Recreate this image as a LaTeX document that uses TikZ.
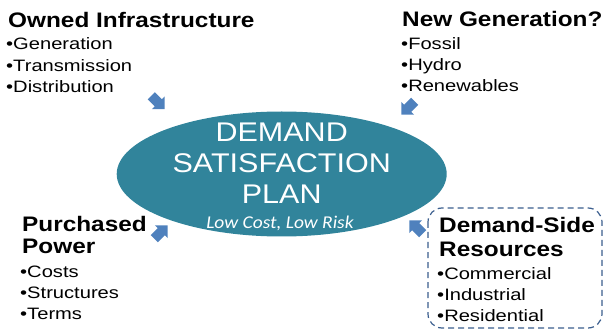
\documentclass[tikz,border=0pt]{standalone}
\usepackage{fontspec}
\setmainfont{Liberation Sans}
\newfontfamily\headfont{Liberation Sans}[FakeStretch=1.16]
\newfontfamily\bulfont{Liberation Sans}[FakeStretch=1.22]
\newfontfamily\ellfont{Liberation Sans}[FakeStretch=1.13]
\newfontfamily\subfont{Carlito}[FakeStretch=1.08]
\usetikzlibrary{shapes.geometric}
\definecolor{planteal}{HTML}{31849B}
\definecolor{arrowblue}{HTML}{4F81BD}
\definecolor{dashblue}{HTML}{3B5E8E}
\tikzset{
  heading/.style={anchor=base west, inner sep=0pt, font=\headfont\bfseries\fontsize{21}{23}\selectfont},
  bullet/.style={anchor=base west, inner sep=0pt, font=\bulfont\fontsize{16.5}{19}\selectfont},
  plantext/.style={anchor=base, inner sep=0pt, text=white, font=\ellfont\fontsize{27}{30}\selectfont},
  feedarrow/.pic={
    \fill[arrowblue] (-9.5,-5) -- (0.5,-5) -- (0.5,-9) -- (9.5,0) -- (0.5,9) -- (0.5,5) -- (-9.5,5) -- cycle;
  }
}
\begin{document}
\begin{tikzpicture}[x=1pt,y=-1pt]
\useasboundingbox (0,0) rectangle (605,331);

% central plan ellipse
\node[ellipse, fill=planteal, inner sep=0pt, minimum width=330pt, minimum height=125pt] (plan) at (281.7,174) {};
\node[plantext] (l1) at (281.7,141.7) {DEMAND};
\node[plantext] (l2) at (281.7,172.3) {SATISFACTION};
\node[plantext] (l3) at (281.7,204) {PLAN};
\node[anchor=base, inner sep=0pt, text=white, font=\subfont\itshape\fontsize{18}{20}\selectfont] (sub) at (280,228.3) {Low Cost, Low Risk};

% owned infrastructure
\node[heading] (own) at (8,28) {Owned Infrastructure};
\node[bullet] (own1) at (6,50) {•Generation};
\node[bullet] (own2) at (6,71.5) {•Transmission};
\node[bullet] (own3) at (6,93) {•Distribution};

% new generation
\node[heading] (new) at (402,27) {New Generation?};
\node[bullet] (new1) at (401,50) {•Fossil};
\node[bullet] (new2) at (401,71) {•Hydro};
\node[bullet] (new3) at (401,92) {•Renewables};

% purchased power
\node[heading] (pur) at (22,232) {Purchased};
\node[heading] (pur0) at (22,254) {Power};
\node[bullet] (pur1) at (20,277) {•Costs};
\node[bullet] (pur2) at (20,298) {•Structures};
\node[bullet] (pur3) at (20,319) {•Terms};

% demand-side resources
\draw[dashblue, line width=1.2pt, dash pattern=on 6pt off 4pt, rounded corners=14pt] (428,208) rectangle (602,328);
\node[heading] (dsr) at (439,233) {Demand-Side};
\node[heading] (dsr0) at (439,256) {Resources};
\node[bullet] (dsr1) at (437,279.5) {•Commercial};
\node[bullet] (dsr2) at (437,300.5) {•Industrial};
\node[bullet] (dsr3) at (437,321) {•Residential};

% block arrows feeding the plan
\coordinate (a1) at (158,102.5);
\coordinate (a2) at (408,108);
\coordinate (a3) at (161,232);
\coordinate (a4) at (416,227);
\pic[rotate=-45] at (a1) {feedarrow};
\pic[rotate=-135] at (a2) {feedarrow};
\pic[rotate=45] at (a3) {feedarrow};
\pic[rotate=135] at (a4) {feedarrow};
\end{tikzpicture}
\end{document}
